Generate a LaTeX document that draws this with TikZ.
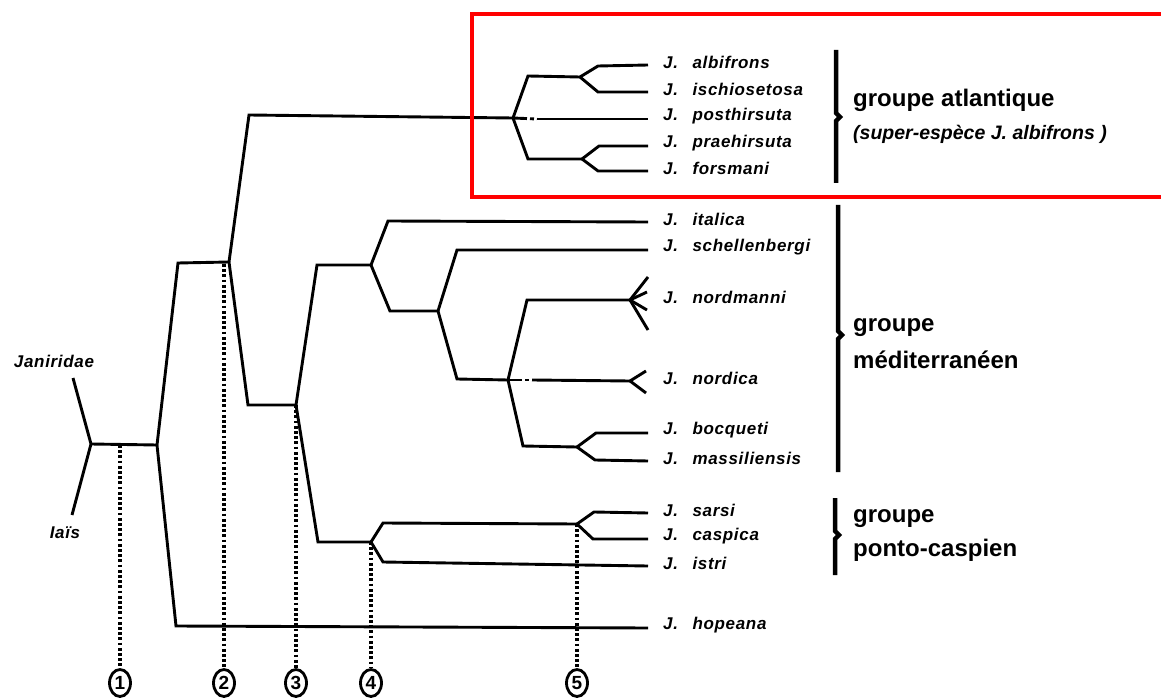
\documentclass[tikz,border=0pt]{standalone}
\usepackage{fontspec}
\setmainfont{Liberation Sans}
\newfontfamily\spfont[LetterSpace=4]{Liberation Sans}
\usepackage{xcolor}
\usetikzlibrary{positioning,shapes.geometric}

\tikzset{
	tree/.style={line width=2.9pt},
	guide/.style={line width=3.2pt, dash pattern=on 2.8pt off 2.4pt},
	broken/.style={line width=2.9pt, dash pattern=on 14pt off 3pt on 4pt off 3pt},
	sp/.style={font=\spfont\bfseries\itshape\fontsize{17}{19}\selectfont, inner sep=0pt},
	grp/.style={font=\bfseries\fontsize{24}{28}\selectfont, inner sep=0pt, anchor=west},
	num/.style={draw, ellipse, line width=2.8pt, minimum width=21pt, minimum height=27pt, inner sep=0pt, font=\bfseries\fontsize{19}{19}\selectfont},
	brace/.style={line width=4.5pt}
}

\begin{document}
\begin{tikzpicture}[x=1pt,y=-1pt]
	\useasboundingbox (0,0) rectangle (1161,700);

	% Branch points
	\coordinate (n1) at (91,444);
	\coordinate (n2) at (157,445);
	\coordinate (n3) at (229,262);
	\coordinate (n4) at (296,405);
	\coordinate (n5) at (371,265);
	\coordinate (n6) at (371,542);
	\coordinate (n7) at (438,311);
	\coordinate (n8) at (508,380);
	\coordinate (n9) at (577,447);
	\coordinate (n10) at (577,524);
	\coordinate (na) at (513,118);
	\coordinate (na1) at (580,77);
	\coordinate (na2) at (582,159);
	\coordinate (f1) at (630,300);
	\coordinate (f2) at (630,381);
	\coordinate (g1) at (532,380);
	\coordinate (g2) at (537,119);
	\coordinate (jan) at (73,378);
	\coordinate (lais) at (72,515);

	% Leaves and species
	\foreach \name/\y in {albifrons/65,ischiosetosa/92,posthirsuta/119,praehirsuta/146,forsmani/171,italica/222,schellenbergi/250,nordmanni/300,nordica/381,bocqueti/433,massiliensis/461,sarsi/513,caspica/539,istri/566,hopeana/628}
	{
		\coordinate (t-\name) at (648,\y);
		\node[sp, right=15pt of t-\name, yshift=2.5pt] (\name) {J.\hspace{0.85em}\name};
	}
	\node[sp] (janiridae) at (54,361) {Janiridae};
	\node[sp] (iais) at (65,533) {Iaïs};

	% Tree
	\draw[tree] (jan) -- (n1) -- (lais);
	\draw[tree] (n1) -- (n2);
	\draw[tree] (n2) -- ++(21,-182) -- (n3);
	\draw[tree] (n2) -- ++(19,181) -- (t-hopeana);
	\draw[tree] (n3) -- ++(20,-147) -- (na);
	\draw[tree] (n3) -- ++(19,143) -- (n4);
	\draw[tree] (n4) -- ++(21,-140) -- (n5);
	\draw[tree] (n4) -- ++(22,137) -- (n6);
	\draw[tree] (n5) -- ++(17,-44) -- (t-italica);
	\draw[tree] (n5) -- ++(19,46) -- (n7);
	\draw[tree] (n7) -- ++(19,-61) -- (t-schellenbergi);
	\draw[tree] (n7) -- ++(19,68) -- (n8);
	\draw[tree] (n8) -- ++(19,-80) -- (f1);
	\draw[broken] (n8) -- (g1);
	\draw[tree] (g1) -- (f2);
	\draw[tree] (n8) -- ++(15,66) -- (n9);
	\draw[tree] (n9) -- ++(19,-14) -- (t-bocqueti);
	\draw[tree] (n9) -- ++(18,13) -- (t-massiliensis);
	\draw[tree] (n6) -- ++(12,-19) -- (n10);
	\draw[tree] (n10) -- ++(17,-12) -- (t-sarsi);
	\draw[tree] (n10) -- ++(16,15) -- (t-caspica);
	\draw[tree] (n6) -- ++(12,20) -- (t-istri);
	\draw[tree] (na) -- ++(15,-42) -- (na1);
	\draw[tree] (na1) -- ++(18,-11) -- (t-albifrons);
	\draw[tree] (na1) -- ++(18,15) -- (t-ischiosetosa);
	\draw[broken] (na) -- (g2);
	\draw[tree] (g2) -- (t-posthirsuta);
	\draw[tree] (na) -- ++(15,41) -- (na2);
	\draw[tree] (na2) -- ++(17,-13) -- (t-praehirsuta);
	\draw[tree] (na2) -- ++(16,12) -- (t-forsmani);
	\foreach \dx/\dy in {18/-23,17/-8,17/10,18/30}
	\draw[tree] (f1) -- ++(\dx,\dy);
	\foreach \dy in {-10,12}
	\draw[tree] (f2) -- ++(16,\dy);

	% Dotted guides
	\coordinate (base) at (0,683);
	\coordinate (d1) at (120,445);
	\coordinate (d2) at (224,264);
	\node[num] (c1) at (d1 |- base) {1};
	\node[num] (c2) at (d2 |- base) {2};
	\node[num] (c3) at (n4 |- base) {3};
	\node[num] (c4) at (n6 |- base) {4};
	\node[num] (c5) at (n10 |- base) {5};
	\draw[guide] (d1) -- (c1);
	\draw[guide] (d2) -- (c2);
	\draw[guide] (n4) -- (c3);
	\draw[guide] (n6) -- (c4);
	\draw[guide] (n10) -- (c5);

	% Groups
	\foreach \bx/\ya/\yb/\yc in {836/50/117/183,838/205/335/472,835/498/535/575}
	\draw[brace] (\bx,\ya) -- (\bx,\yb-4) -- (\bx+4,\yb) -- (\bx,\yb+4) -- (\bx,\yc);
	\node[grp] (atl) at (853,100) {groupe atlantique};
	\node[grp, font=\bfseries\itshape\fontsize{19.5}{22}\selectfont] (sup) at (853,134) {(super-espèce J.\ albifrons )};
	\node[grp] (med1) at (853,328) {groupe};
	\node[grp] (med2) at (853,360) {méditerranéen};
	\node[grp] (pc1) at (853,519) {groupe};
	\node[grp] (pc2) at (853,550) {ponto-caspien};

	\draw[red, line width=4pt] (472,14) rectangle (1175,197);
\end{tikzpicture}
\end{document}
